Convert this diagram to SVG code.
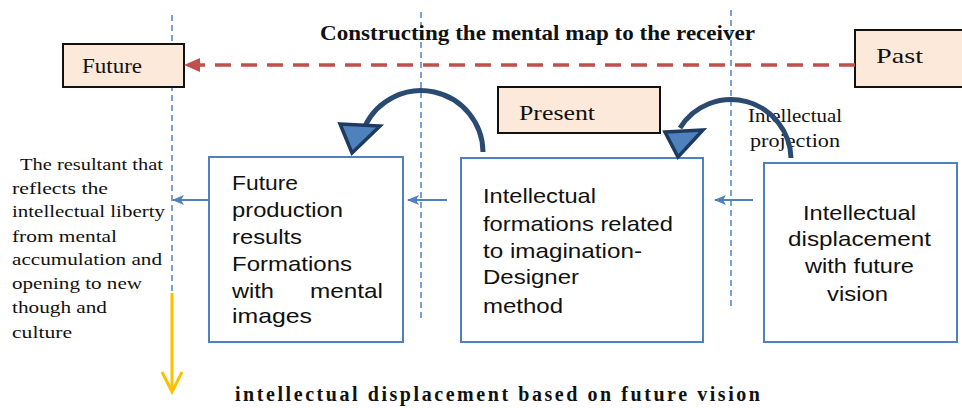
<svg xmlns="http://www.w3.org/2000/svg" width="962" height="408" viewBox="0 0 962 408">
<defs>
<style>
.serif{font-family:"Liberation Serif","Times New Roman",serif;fill:#111}
.sans{font-family:"Liberation Sans",Arial,sans-serif;fill:#111;font-size:21px}
.bold{font-weight:bold}
.guide{stroke:#4f81bd;stroke-width:1.5;stroke-dasharray:6 4;fill:none}
.tag{fill:#fde9d9;stroke:#111;stroke-width:2}
.box{fill:#fff;stroke:#4f81bd;stroke-width:2}
.flow{stroke:#4f81bd;stroke-width:2;fill:none}
.arc{stroke:#2a4a72;stroke-width:5;fill:none}
.head{fill:#4f81bd;stroke:#1f3a60;stroke-width:3.5;stroke-linejoin:miter}
</style>
<marker id="bh" viewBox="0 0 12 10" refX="11" refY="5" markerWidth="12" markerHeight="10" markerUnits="userSpaceOnUse" orient="auto">
<path d="M0,0 L12,5 L0,10 L3,5 Z" fill="#4f81bd"/>
</marker>
<marker id="rh" viewBox="0 0 16 14" refX="15" refY="7" markerWidth="16" markerHeight="14" markerUnits="userSpaceOnUse" orient="auto">
<path d="M0,0 L16,7 L0,14 Z" fill="#c0504d"/>
</marker>
</defs>
<rect width="962" height="408" fill="#fff"/>

<g id="guides">
<line class="guide" x1="172" y1="15" x2="172" y2="300"/>
<line class="guide" x1="421" y1="12" x2="421" y2="318"/>
<line class="guide" x1="731" y1="10" x2="731" y2="310"/>
</g>

<text class="serif bold" x="320" y="40" font-size="22" textLength="435" lengthAdjust="spacingAndGlyphs">Constructing the mental map to the receiver</text>

<g id="future">
<rect class="tag" x="63" y="44" width="121" height="43"/>
<text class="serif" x="82" y="73" font-size="21" textLength="60" lengthAdjust="spacingAndGlyphs">Future</text>
</g>
<g id="past">
<rect class="tag" x="855" y="30" width="115" height="57"/>
<text class="serif" x="876" y="63" font-size="22" textLength="47" lengthAdjust="spacingAndGlyphs">Past</text>
</g>
<g id="present">
<rect class="tag" x="498" y="87" width="162" height="46"/>
<text class="serif" x="519" y="120" font-size="21" textLength="76" lengthAdjust="spacingAndGlyphs">Present</text>
</g>

<g id="projection-label">
<text class="serif" x="748" y="122" font-size="18" textLength="94" lengthAdjust="spacingAndGlyphs">Intellectual</text>
<text class="serif" x="750" y="147" font-size="18" textLength="90" lengthAdjust="spacingAndGlyphs">projection</text>
</g>

<g id="box-future-results">
<rect class="box" x="209" y="157" width="194" height="185" stroke-width="3"/>
<text class="sans" x="232" y="190" textLength="66" lengthAdjust="spacingAndGlyphs">Future</text>
<text class="sans" x="232" y="217" textLength="111" lengthAdjust="spacingAndGlyphs">production</text>
<text class="sans" x="232" y="244" textLength="70" lengthAdjust="spacingAndGlyphs">results</text>
<text class="sans" x="232" y="271" textLength="120" lengthAdjust="spacingAndGlyphs">Formations</text>
<text class="sans" x="232" y="298" textLength="42" lengthAdjust="spacingAndGlyphs">with</text>
<text class="sans" x="310" y="298" textLength="73" lengthAdjust="spacingAndGlyphs">mental</text>
<text class="sans" x="232" y="323" textLength="80" lengthAdjust="spacingAndGlyphs">images</text>
</g>

<g id="box-formations">
<rect class="box" x="461" y="158" width="242" height="184"/>
<text class="sans" x="483" y="203" textLength="113" lengthAdjust="spacingAndGlyphs">Intellectual</text>
<text class="sans" x="483" y="231" textLength="190" lengthAdjust="spacingAndGlyphs">formations related</text>
<text class="sans" x="483" y="258" textLength="159" lengthAdjust="spacingAndGlyphs">to imagination-</text>
<text class="sans" x="483" y="284" textLength="96" lengthAdjust="spacingAndGlyphs">Designer</text>
<text class="sans" x="483" y="313" textLength="80" lengthAdjust="spacingAndGlyphs">method</text>
</g>

<g id="box-displacement">
<rect class="box" x="764" y="163" width="193" height="179"/>
<text class="sans" x="803" y="220" textLength="113" lengthAdjust="spacingAndGlyphs">Intellectual</text>
<text class="sans" x="788" y="246" textLength="143" lengthAdjust="spacingAndGlyphs">displacement</text>
<text class="sans" x="805" y="273" textLength="109" lengthAdjust="spacingAndGlyphs">with future</text>
<text class="sans" x="827" y="301" textLength="61" lengthAdjust="spacingAndGlyphs">vision</text>
</g>

<g id="resultant-text">
<text class="serif" x="20" y="170" font-size="17" textLength="143" lengthAdjust="spacingAndGlyphs">The resultant that</text>
<text class="serif" x="12" y="194" font-size="17" textLength="96" lengthAdjust="spacingAndGlyphs">reflects the</text>
<text class="serif" x="12" y="217" font-size="17" textLength="153" lengthAdjust="spacingAndGlyphs">intellectual liberty</text>
<text class="serif" x="12" y="242" font-size="17" textLength="105" lengthAdjust="spacingAndGlyphs">from mental</text>
<text class="serif" x="12" y="265" font-size="17" textLength="150" lengthAdjust="spacingAndGlyphs">accumulation and</text>
<text class="serif" x="12" y="289" font-size="17" textLength="130" lengthAdjust="spacingAndGlyphs">opening to new</text>
<text class="serif" x="12" y="313" font-size="17" textLength="95" lengthAdjust="spacingAndGlyphs">though and</text>
<text class="serif" x="12" y="338" font-size="17" textLength="60" lengthAdjust="spacingAndGlyphs">culture</text>
</g>

<text class="serif bold" x="235" y="401" font-size="20" textLength="525" lengthAdjust="spacing">intellectual displacement based on future vision</text>

<g id="connectors">
<line x1="855" y1="65" x2="185" y2="65" stroke="#c0504d" stroke-width="3.5" stroke-dasharray="16 10" marker-end="url(#rh)"/>
<line class="flow" x1="209" y1="200" x2="173" y2="200" marker-end="url(#bh)"/>
<line class="flow" x1="447" y1="200" x2="408" y2="200" marker-end="url(#bh)"/>
<line class="flow" x1="753" y1="200" x2="715" y2="200" marker-end="url(#bh)"/>
<path class="arc" d="M483,152 A62,62 0 0 0 365,126"/>
<polygon class="head" points="340,124 380,126 352,153"/>
<path class="arc" d="M791,158 A60,60 0 0 0 680,128"/>
<polygon class="head" points="665,132 703,130 678,157"/>
<line x1="172" y1="293" x2="172" y2="391" stroke="#ffc000" stroke-width="3"/>
<polyline points="162,372 172,392 182,372" fill="none" stroke="#ffc000" stroke-width="3"/>
</g>
</svg>
